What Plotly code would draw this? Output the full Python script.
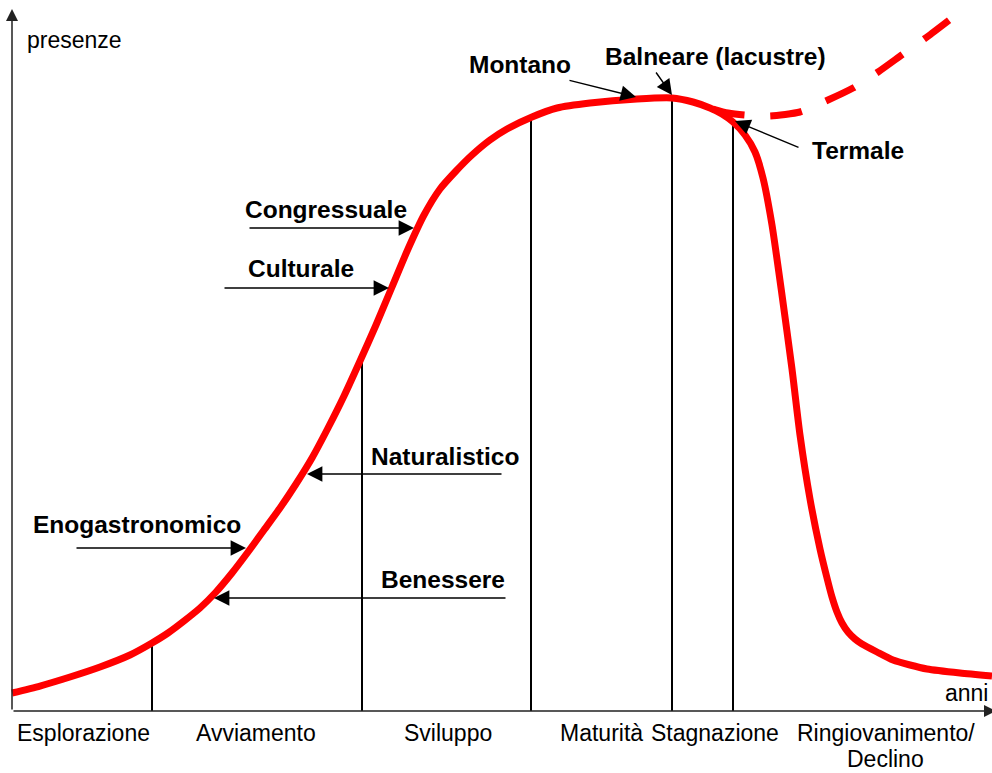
import plotly.graph_objects as go

# ---- data (units: x = years, y = presenze; origin at axes crossing) ----
curve_x = [0, 28, 58, 88, 118, 140, 156, 172, 188, 204,
           220, 236, 252, 268, 284, 300, 316, 332, 348, 364,
           380, 396, 412, 428, 444, 460, 478, 495, 520, 545,
           578, 625, 660, 681, 698, 710, 721, 733, 743, 751,
           760, 770, 780, 788, 798, 808, 815, 820, 825, 830,
           836, 843, 850, 865, 881, 898, 915, 948, 980]
curve_y = [18, 25, 34, 44, 56, 68, 78, 90, 103, 119,
           138, 159, 181, 203, 227, 253, 283, 315, 350, 386,
           424, 462, 496, 522, 540, 556, 571, 582, 594, 603,
           608, 612, 613, 609, 603, 597, 589, 576, 559, 533,
           486, 416, 342, 276, 212, 162, 133, 114, 99, 88,
           79, 72, 67, 59, 51, 46, 42, 38, 35]

rejuv_x = [701, 716, 733, 758, 788, 816, 841, 866, 891, 915, 940]
rejuv_y = [602, 598, 596, 595, 599, 611, 623, 639, 657, 674, 693]

stage_bounds_x = [140, 350, 519, 660, 721]
stage_bounds_top = [70, 353, 593, 614, 589]

stage_labels = ["Esplorazione", "Avviamento", "Sviluppo", "Maturità", "Stagnazione",
                "Ringiovanimento/", "Declino"]
stage_label_x = [71, 244, 436, 589, 703, 874, 873]
stage_label_y = [-22, -22, -22, -22, -22, -22, -48]

segment_labels = ["Montano", "Balneare (lacustre)", "Termale", "Congressuale", "Culturale",
                  "Naturalistico", "Enogastronomico", "Benessere"]
# arrow heads (point on curve) and tails
arrow_head_x = [624, 660, 723, 402, 377, 295, 234, 202]
arrow_head_y = [614, 616, 590, 483, 423, 237, 163, 113]
arrow_tail_x = [556, 643, 788, 236, 211, 491, 63, 495]
arrow_tail_y = [631, 640, 563, 483, 423, 237, 163, 113]
label_x = [508, 703, 846, 314, 289, 433, 125, 431]
label_y = [647, 655, 561, 502, 443, 255, 187, 132]

RED = "#ff0000"
FONT = "Liberation Sans, Arial, sans-serif"

fig = go.Figure()
fig.add_trace(go.Scatter(x=curve_x, y=curve_y, mode="lines",
                         line=dict(color=RED, width=7, shape="spline", smoothing=0.6),
                         hoverinfo="skip"))
fig.add_trace(go.Scatter(x=rejuv_x, y=rejuv_y, mode="lines",
                         line=dict(color=RED, width=7, shape="spline", smoothing=0.6, dash="32px,26px"),
                         hoverinfo="skip"))

for bx, top in zip(stage_bounds_x, stage_bounds_top):
    fig.add_shape(type="line", xref="x", yref="y", x0=bx, x1=bx, y0=0, y1=top,
                  line=dict(color="black", width=2), layer="below")

annotations = []
# axes with arrows
annotations.append(dict(x=0, y=702, ax=0, ay=0, xref="x", yref="y", axref="x", ayref="y",
                        text="", showarrow=True, arrowhead=2, arrowsize=1.6, arrowwidth=1.5,
                        arrowcolor="#222"))
annotations.append(dict(x=984, y=0, ax=0, ay=0, xref="x", yref="y", axref="x", ayref="y",
                        text="", showarrow=True, arrowhead=2, arrowsize=1.6, arrowwidth=1.5,
                        arrowcolor="#222"))
annotations.append(dict(x=13, y=671, xref="x", yref="y", text="presenze", showarrow=False,
                        xanchor="left", yanchor="middle", font=dict(family=FONT, size=23, color="black")))
annotations.append(dict(x=954, y=18, xref="x", yref="y", text="anni", showarrow=False,
                        xanchor="center", yanchor="middle", font=dict(family=FONT, size=23, color="black")))

for lab, lx, ly in zip(stage_labels, stage_label_x, stage_label_y):
    annotations.append(dict(x=lx, y=ly, xref="x", yref="y", text=lab, showarrow=False,
                            xanchor="center", yanchor="middle",
                            font=dict(family=FONT, size=23, color="black")))

for hx, hy, tx, ty in zip(arrow_head_x, arrow_head_y, arrow_tail_x, arrow_tail_y):
    annotations.append(dict(x=hx, y=hy, ax=tx, ay=ty, xref="x", yref="y", axref="x", ayref="y",
                            text="", showarrow=True, arrowhead=2, arrowsize=2.2, arrowwidth=1.4,
                            arrowcolor="black"))

for lab, lx, ly in zip(segment_labels, label_x, label_y):
    annotations.append(dict(x=lx, y=ly, xref="x", yref="y", text="<b>" + lab + "</b>", showarrow=False,
                            xanchor="center", yanchor="middle",
                            font=dict(family=FONT, size=24.5, color="black")))

fig.update_layout(
    width=992, height=773,
    margin=dict(l=0, r=0, t=0, b=0),
    paper_bgcolor="white", plot_bgcolor="white",
    showlegend=False,
    xaxis=dict(visible=False, range=[-12, 980], fixedrange=True),
    yaxis=dict(visible=False, range=[-62, 711], fixedrange=True),
    annotations=annotations,
)

fig.write_html("out.html", config={"displayModeBar": False},
               post_script="document.body.style.margin='0';document.body.style.overflow='hidden';")
